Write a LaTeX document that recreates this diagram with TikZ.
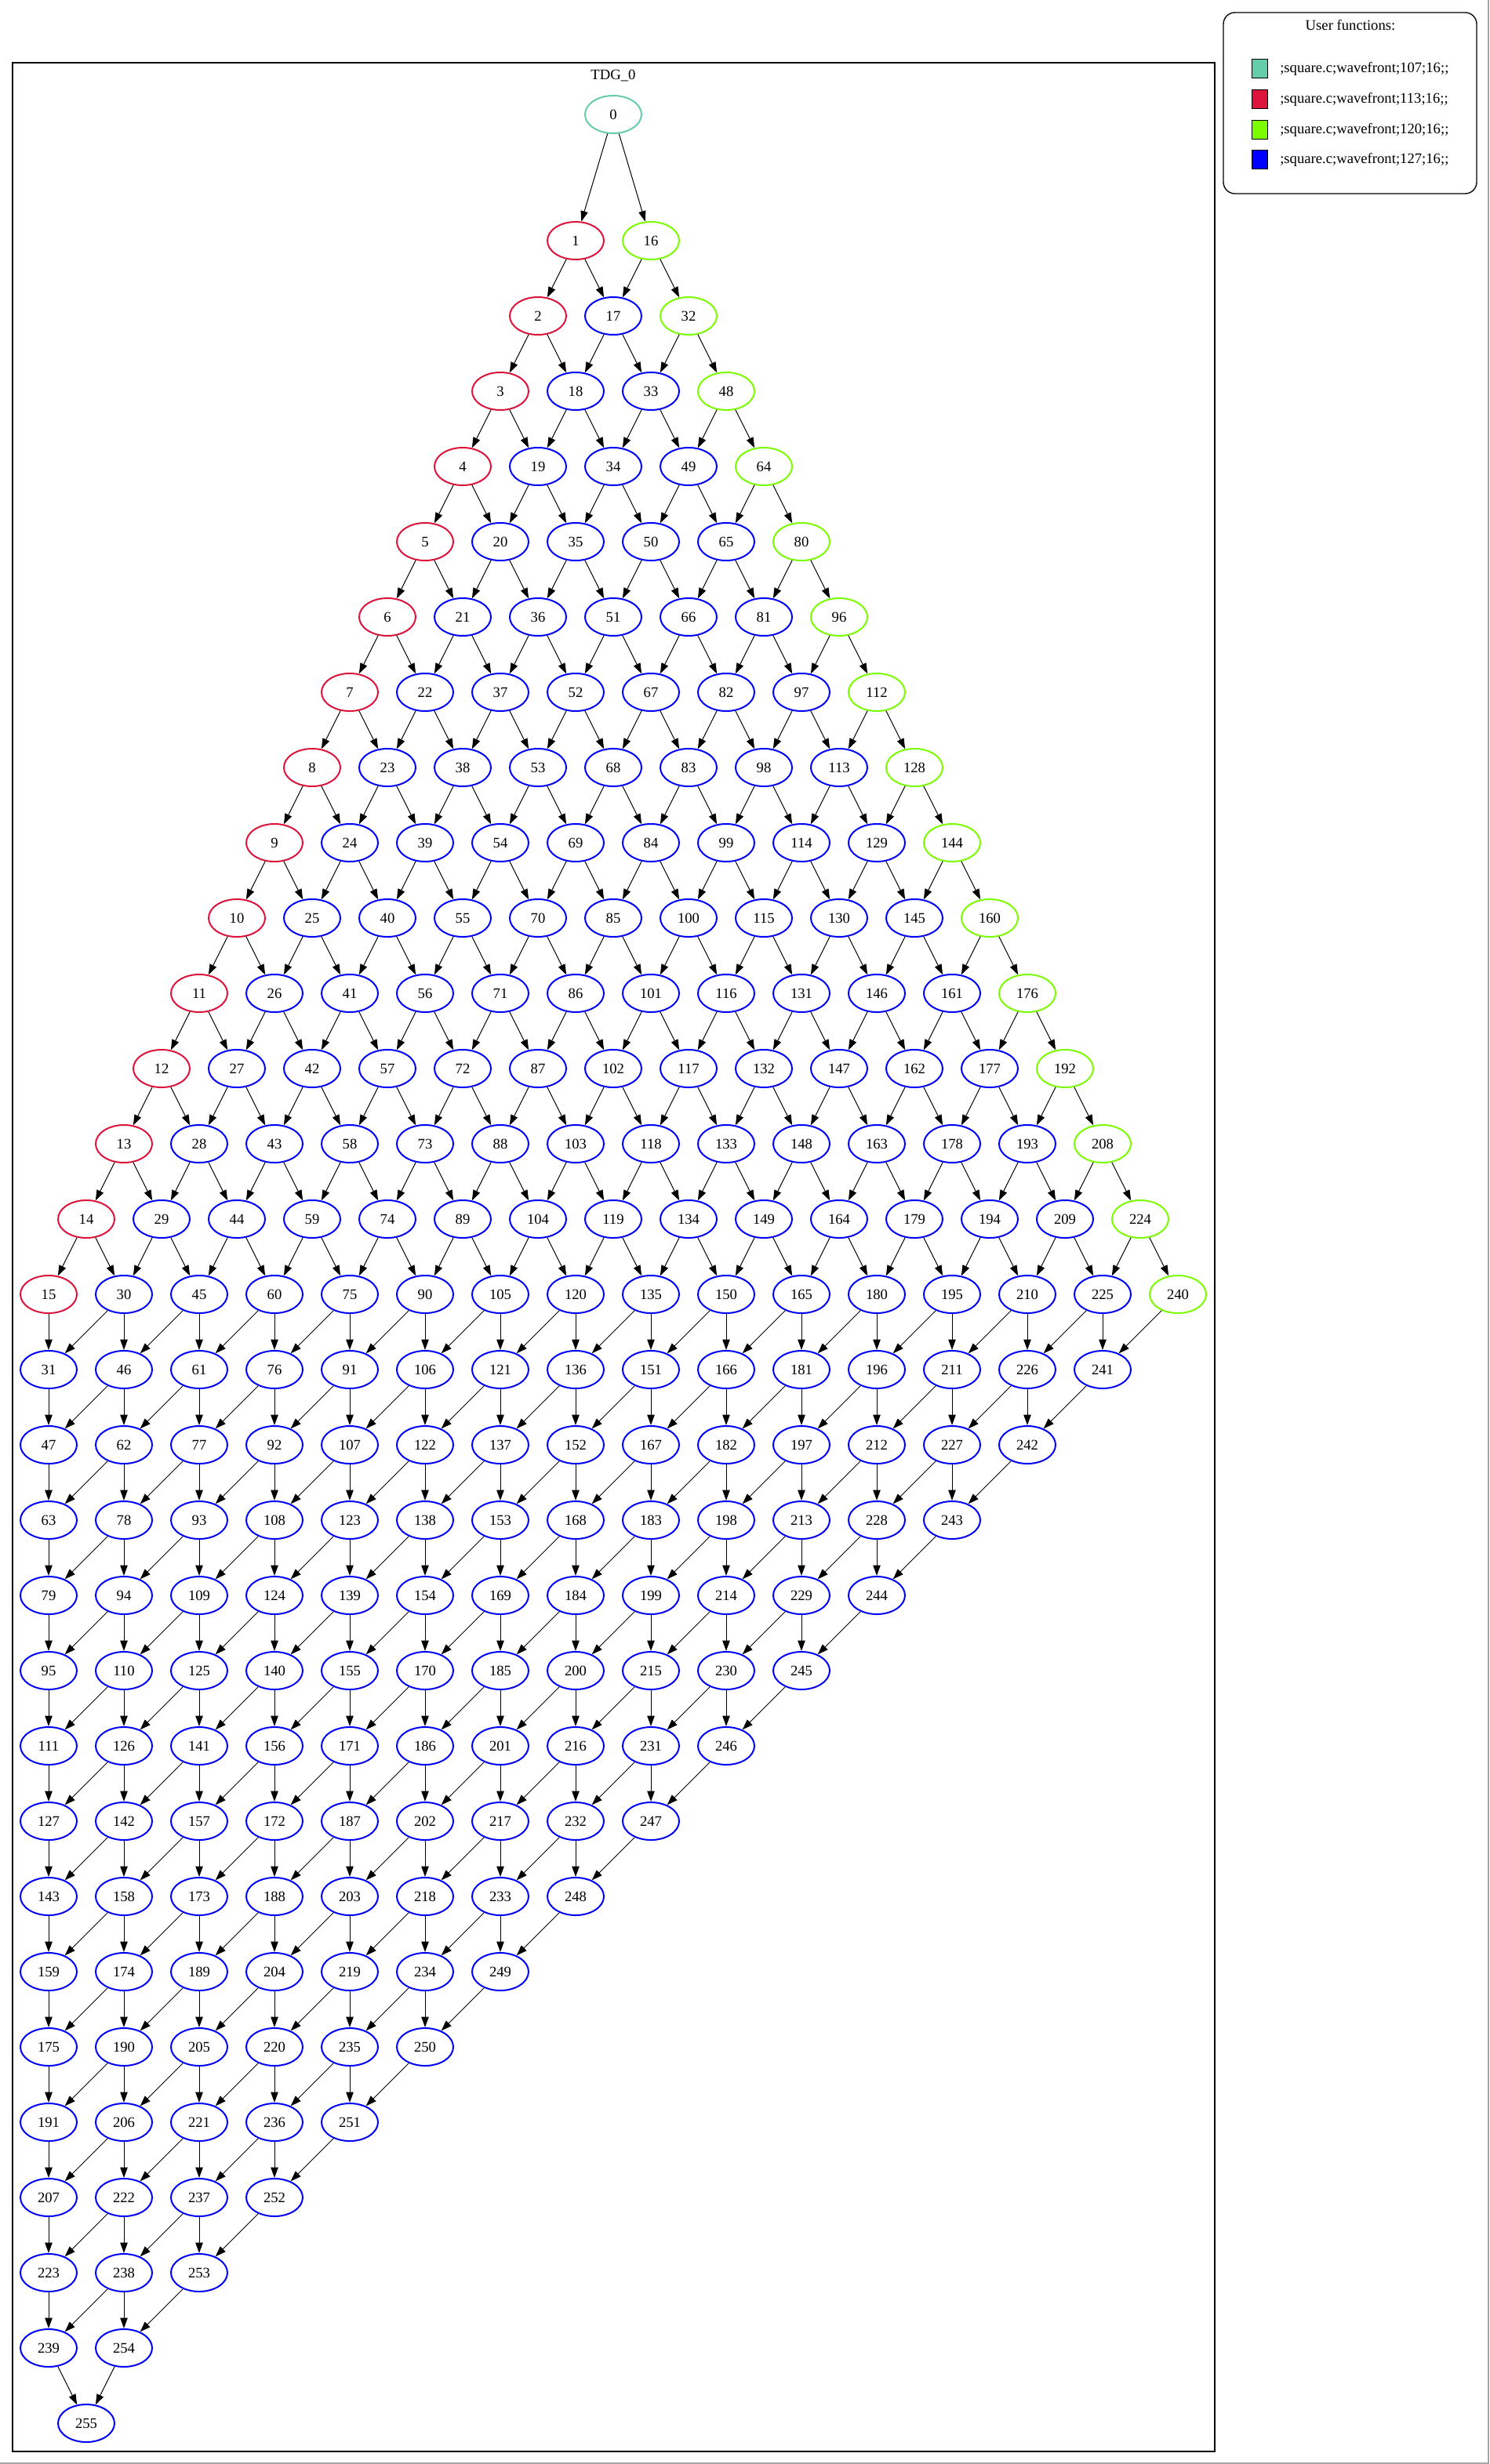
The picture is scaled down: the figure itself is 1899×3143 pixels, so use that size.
\documentclass[tikz,border=0pt]{standalone}
\usepackage{fontspec}
\setmainfont{Liberation Serif}
\usepackage{xcolor}
\usepackage{tikz}
\usetikzlibrary{arrows.meta,shapes.geometric}
\definecolor{fnteal}{RGB}{102,205,170}
\definecolor{fncrimson}{RGB}{220,20,60}
\definecolor{fnlawn}{RGB}{124,252,0}
\definecolor{fnblue}{RGB}{0,0,255}
\tikzset{
  task/.style={ellipse,draw,line width=1.5pt,minimum width=54pt,minimum height=36pt,inner sep=0pt,font=\fontsize{14}{16}\selectfont},
  dep/.style={-{Triangle[length=10pt,width=7pt]},line width=0.75pt},
  swatch/.style={draw=black,line width=0.75pt,minimum width=15pt,minimum height=18pt,inner sep=0pt},
  legtext/.style={anchor=west,inner sep=0pt,font=\fontsize{14}{16}\selectfont},
}
\begin{document}
\begin{tikzpicture}[x=0.75pt,y=-0.75pt]
\useasboundingbox (0,0) rectangle (1899,3143);
\fill[white] (0,0) rectangle (1899,3143);
\draw[color=black!35,line width=1pt] (0,3142) -- (1898,3142) -- (1898,0);
% Drawing cluster frame
\draw[color=black,line width=1pt] (16,80) rectangle (1549,3127);
\node[font=\fontsize{14}{16}\selectfont] (tdg) at (782,96) {TDG\_0};
% Drawing tasks: task k = 16*i+j, rank i+j
\foreach \i in {0,...,15}{
  \foreach \j in {0,...,15}{
    \pgfmathtruncatemacro\k{16*\i+\j}
    \pgfmathtruncatemacro\r{\i+\j}
    \pgfmathsetmacro\px{\r==0 ? 782 : (\r<16 ? 782+48*(\i-\j) : (\r<30 ? 62+96*(15-\j) : 110))}
    \pgfmathsetmacro\py{\r==0 ? 146 : 307+96*(\r-1)}
    \ifnum\k=0 \def\col{fnteal}\else\ifnum\i=0 \def\col{fncrimson}\else\ifnum\j=0 \def\col{fnlawn}\else\def\col{fnblue}\fi\fi\fi
    \node[task,draw=\col] (n\k) at (\px,\py) {\k};
  }
}
% Done with tasks; drawing dependences
\foreach \i in {0,...,15}{
  \foreach \j in {0,...,15}{
    \pgfmathtruncatemacro\k{16*\i+\j}
    \pgfmathtruncatemacro\kr{\k+1}
    \pgfmathtruncatemacro\kd{\k+16}
    \ifnum\j<15 \draw[dep] (n\k) -- (n\kr);\fi
    \ifnum\i<15 \draw[dep] (n\k) -- (n\kd);\fi
  }
}
% Done with dependences; drawing legend
\draw[color=black,line width=1pt,rounded corners=11pt] (1560,16) rectangle (1883,247);
\node[font=\fontsize{14}{16}\selectfont] (legtitle) at (1722,32) {User functions:};
\node[swatch,fill=fnteal] (sw0) at (1606,88) {};
\node[legtext] (lt0) at (1632,88) {;square.c;wavefront;107;16;;};
\node[swatch,fill=fncrimson] (sw1) at (1606,127) {};
\node[legtext] (lt1) at (1632,127) {;square.c;wavefront;113;16;;};
\node[swatch,fill=fnlawn] (sw2) at (1606,166) {};
\node[legtext] (lt2) at (1632,166) {;square.c;wavefront;120;16;;};
\node[swatch,fill=fnblue] (sw3) at (1606,204) {};
\node[legtext] (lt3) at (1632,204) {;square.c;wavefront;127;16;;};
% Done with legend
\end{tikzpicture}
\end{document}
